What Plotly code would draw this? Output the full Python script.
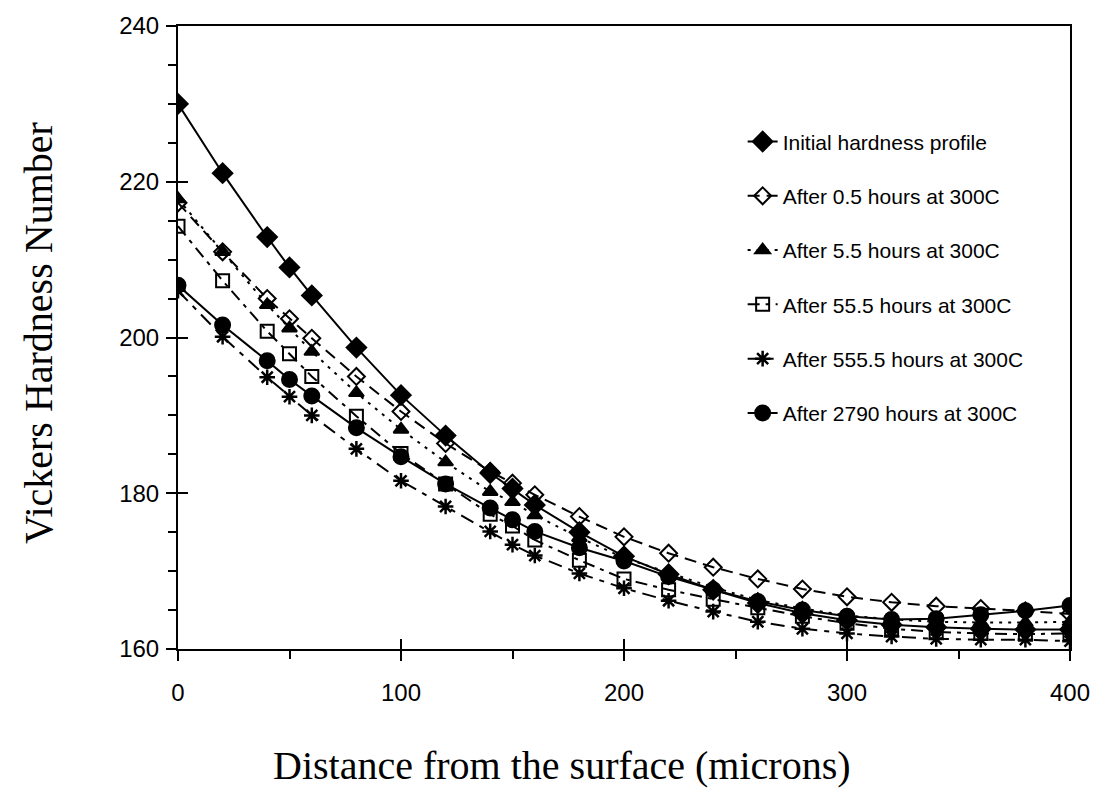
import plotly.graph_objects as go

# Depth below the surface (microns)
depth = [0, 20, 40, 50, 60, 80, 100, 120, 140, 150, 160, 180, 200,
         220, 240, 260, 280, 300, 320, 340, 360, 380, 400]

# Vickers hardness for each ageing condition
initial = [230.0, 221.1, 212.9, 209.0, 205.4, 198.7, 192.6, 187.4, 182.6, 180.6, 178.5, 175.0,
           171.9, 169.6, 167.6, 165.9, 164.6, 163.7, 163.1, 162.8, 162.6, 162.5, 162.5]
h0_5 = [217.3, 211.0, 205.0, 202.4, 199.9, 195.0, 190.5, 186.4, 182.8, 181.3, 179.8, 177.0,
        174.4, 172.3, 170.5, 169.0, 167.7, 166.7, 166.0, 165.5, 165.2, 164.9, 164.5]
h5_5 = [217.8, 211.0, 204.2, 201.2, 198.2, 192.9, 188.2, 184.0, 180.2, 178.9, 177.2, 174.3,
        171.7, 169.8, 167.9, 166.3, 165.2, 164.3, 163.8, 163.5, 163.4, 163.4, 163.5]
h55_5 = [214.3, 207.3, 200.8, 197.9, 195.0, 189.9, 185.1, 181.2, 177.3, 175.8, 174.0, 171.4,
         169.0, 167.6, 166.4, 165.3, 164.2, 163.3, 162.6, 162.2, 162.0, 161.9, 162.0]
h555_5 = [206.0, 200.1, 194.9, 192.4, 190.0, 185.7, 181.6, 178.3, 175.1, 173.4, 172.0, 169.7,
          167.8, 166.2, 164.8, 163.5, 162.6, 162.0, 161.6, 161.3, 161.2, 161.2, 161.0]
h2790 = [206.7, 201.6, 197.0, 194.6, 192.5, 188.4, 184.7, 181.2, 178.1, 176.6, 175.1, 173.0,
         171.3, 169.3, 167.6, 166.1, 165.0, 164.2, 163.8, 163.9, 164.4, 164.9, 165.6]

series_names = [
    "Initial hardness profile",
    "After 0.5 hours at 300C",
    "After 5.5 hours at 300C",
    "After 55.5 hours at 300C",
    "After 555.5 hours at 300C",
    "After 2790 hours at 300C",
]
series_values = [initial, h0_5, h5_5, h55_5, h555_5, h2790]

styles = [
    dict(symbol="diamond", size=15, dash="solid", mlw=2),
    dict(symbol="diamond-open", size=13, dash="12px,7px", mlw=2),
    dict(symbol="triangle-up", size=13, dash="3px,6px", mlw=2),
    dict(symbol="square-open", size=13, dash="12px,6px,4px,6px", mlw=2),
    dict(symbol="asterisk-open", size=13, dash="14px,7px,5px,7px", mlw=2.5),
    dict(symbol="circle", size=15, dash="solid", mlw=2),
]

fig = go.Figure()
for i, (name, vals, st) in enumerate(zip(series_names, series_values, styles)):
    fig.add_trace(go.Scatter(
        x=depth, y=vals, name=name, mode="lines+markers",
        legendgroup=f"g{i}",
        line=dict(color="black", width=2, dash=st["dash"]),
        marker=dict(symbol=st["symbol"], size=st["size"], color="black",
                    line=dict(color="black", width=st["mlw"])),
    ))

# invisible trace carrying the inner half of the crossing major ticks
fig.add_trace(go.Scatter(x=[0, 400], y=[160, 240], xaxis="x2", yaxis="y2",
                         mode="none", showlegend=False, hoverinfo="skip"))

axis_font = dict(family="Liberation Sans, Arial, sans-serif", size=24, color="black")
title_font = dict(family="Liberation Serif, Times New Roman, serif", size=40, color="black")

fig.update_layout(
    width=1104, height=792,
    margin=dict(l=178, r=34, t=20, b=143),
    paper_bgcolor="white", plot_bgcolor="white",
    showlegend=True,
    legend=dict(x=0.633, y=0.847, xanchor="left", yanchor="top",
                font=dict(family="Liberation Sans, Arial, sans-serif", size=21, color="black"),
                bgcolor="rgba(0,0,0,0)", tracegroupgap=24, itemwidth=30),
    xaxis=dict(range=[0, 400], tickvals=[0, 100, 200, 300, 400], showgrid=False, zeroline=False,
               showline=True, linecolor="black", linewidth=2, mirror=True,
               ticks="outside", ticklen=10, tickwidth=2, tickcolor="black",
               tickfont=axis_font, ticklabelstandoff=11,
               minor=dict(dtick=50, ticks="outside", ticklen=8, tickwidth=2, tickcolor="black")),
    yaxis=dict(range=[160, 240], tickvals=[160, 180, 200, 220, 240], showgrid=False, zeroline=False,
               showline=True, linecolor="black", linewidth=2, mirror=True,
               ticks="outside", ticklen=10, tickwidth=2, tickcolor="black",
               tickfont=axis_font, ticklabelstandoff=2,
               minor=dict(dtick=5, ticks="outside", ticklen=8, tickwidth=2, tickcolor="black")),
    xaxis2=dict(overlaying="x", matches="x", range=[0, 400], tickvals=[0, 100, 200, 300, 400],
                side="bottom", anchor="y2", showgrid=False, zeroline=False, showline=False,
                ticks="inside", ticklen=10, tickwidth=2, tickcolor="black", showticklabels=False),
    yaxis2=dict(overlaying="y", matches="y", range=[160, 240], tickvals=[160, 180, 200, 220, 240],
                side="left", anchor="x2", showgrid=False, zeroline=False, showline=False,
                ticks="inside", ticklen=10, tickwidth=2, tickcolor="black", showticklabels=False),
    annotations=[
        dict(text="Vickers Hardness Number", xref="paper", yref="paper",
             x=-0.157, y=0.507, xanchor="center", yanchor="middle", textangle=-90,
             showarrow=False, font=title_font),
        dict(text="Distance from the surface (microns)", xref="paper", yref="paper",
             x=0.4305, y=-0.1876, xanchor="center", yanchor="middle", showarrow=False,
             font=title_font),
    ],
)

fig.write_html("out.html")
